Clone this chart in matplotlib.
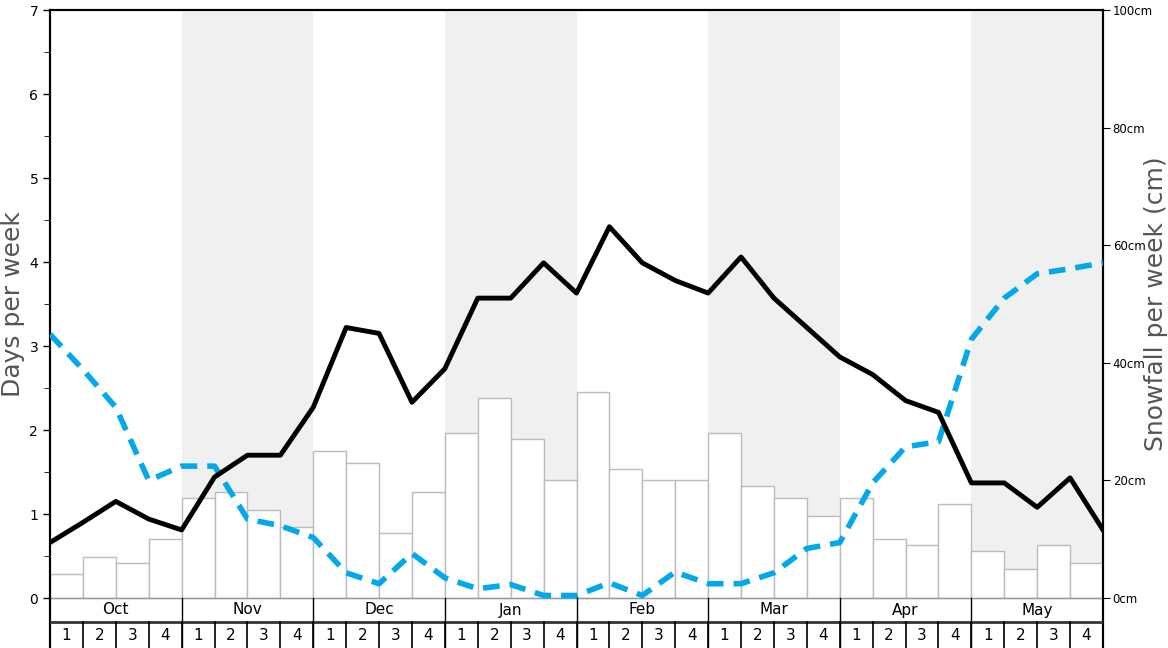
import numpy as np
import matplotlib.pyplot as plt

months = ['Oct', 'Nov', 'Dec', 'Jan', 'Feb', 'Mar', 'Apr', 'May']
week_labels = ['1', '2', '3', '4']

# snowfall per week (cm), one bar per week
snowfall_cm = [4, 7, 6, 10, 17, 18, 15, 12, 25, 23, 11, 18, 28, 34, 27, 20,
               35, 22, 20, 20, 28, 19, 17, 14, 17, 10, 9, 16, 8, 5, 9, 6]

# days per week, values at week boundaries (33 points)
snow_days = [0.66, 0.90, 1.15, 0.94, 0.81, 1.44, 1.70, 1.70, 2.27, 3.22, 3.15,
             2.33, 2.73, 3.57, 3.57, 3.99, 3.63, 4.42, 3.99, 3.78, 3.63, 4.06,
             3.57, 3.22, 2.87, 2.66, 2.35, 2.21, 1.37, 1.37, 1.08, 1.43, 0.81]
other_days = [3.14, 2.72, 2.27, 1.40, 1.57, 1.57, 0.94, 0.86, 0.72, 0.30, 0.17,
              0.53, 0.24, 0.11, 0.16, 0.03, 0.03, 0.18, 0.03, 0.31, 0.17, 0.17,
              0.30, 0.59, 0.66, 1.37, 1.80, 1.86, 3.08, 3.57, 3.86, 3.92, 3.99]

n_weeks = len(snowfall_cm)
ymin = -50 / 84.0   # room for the month / week rows below zero
ymax = 7

fig = plt.figure(figsize=(11.68, 6.48), dpi=100)
ax = fig.add_axes([50 / 1168, 0, 1053 / 1168, 638 / 648])
ax2 = ax.twinx()
ax.set_zorder(ax2.get_zorder() + 1)
ax.patch.set_visible(False)

# shaded months and bars on the cm axis (behind)
for m in range(1, len(months), 2):
    ax2.fill_between([m * 4, m * 4 + 4], 0, 100, color='#f0f0f0', lw=0, zorder=0)
x_bar = np.arange(n_weeks) + 0.5
ax2.bar(x_bar, snowfall_cm, width=1.0, color='white', edgecolor='#bbbbbb',
        linewidth=1, zorder=1)

# lines on the days axis (front)
x_pts = np.arange(len(snow_days))
ax.plot(x_pts, other_days, color='#00a8ec', lw=4, dashes=(3, 1.8), zorder=3)
ax.plot(x_pts, snow_days, color='black', lw=3.5, zorder=4)

# month / week rows
row_mid = -24 / 84.0
ax.axhline(0, color='#999999', lw=1, zorder=2)
ax.axhline(row_mid, color='#333333', lw=2, zorder=5)
for i, m in enumerate(months):
    ax.text(i * 4 + 2, row_mid / 2, m, ha='center', va='center', fontsize=11)
    if i > 0:
        ax.plot([i * 4, i * 4], [ymin, 0], color='black', lw=1, zorder=5)
for w in range(n_weeks):
    ax.text(w + 0.5, (row_mid + ymin) / 2, week_labels[w % 4], ha='center',
            va='center', fontsize=11)
    if w > 0:
        ax.plot([w, w], [ymin, row_mid], color='black', lw=1.2, zorder=5)

ax.set_xlim(0, n_weeks)
ax.set_ylim(ymin, ymax)
ax2.set_ylim(ymin * 100 / 7, 100)
ax.set_xticks([])

ax.set_yticks(range(0, 8))
ax.set_yticks(np.arange(0.5, 7, 1), minor=True)
ax.tick_params(axis='y', labelsize=10, length=5, width=1)
ax.tick_params(axis='y', which='minor', length=4)
ax2.set_yticks(range(0, 101, 20))
ax2.set_yticklabels(['%dcm' % v for v in range(0, 101, 20)])
ax2.tick_params(axis='y', labelsize=8.5, length=5, pad=2)

for a in (ax, ax2):
    for s in a.spines.values():
        s.set_linewidth(1.5)
    a.spines['bottom'].set_visible(False)

ax.set_ylabel('Days per week', fontsize=18, color='#555555')
ax.yaxis.set_label_coords(-0.0235, (3.5 - ymin) / (ymax - ymin))
ax2.set_ylabel('Snowfall per week (cm)', fontsize=18, color='#555555')
ax2.yaxis.set_label_coords(1.039, (3.5 - ymin) / (ymax - ymin))

fig.savefig('out.png', dpi=100)
